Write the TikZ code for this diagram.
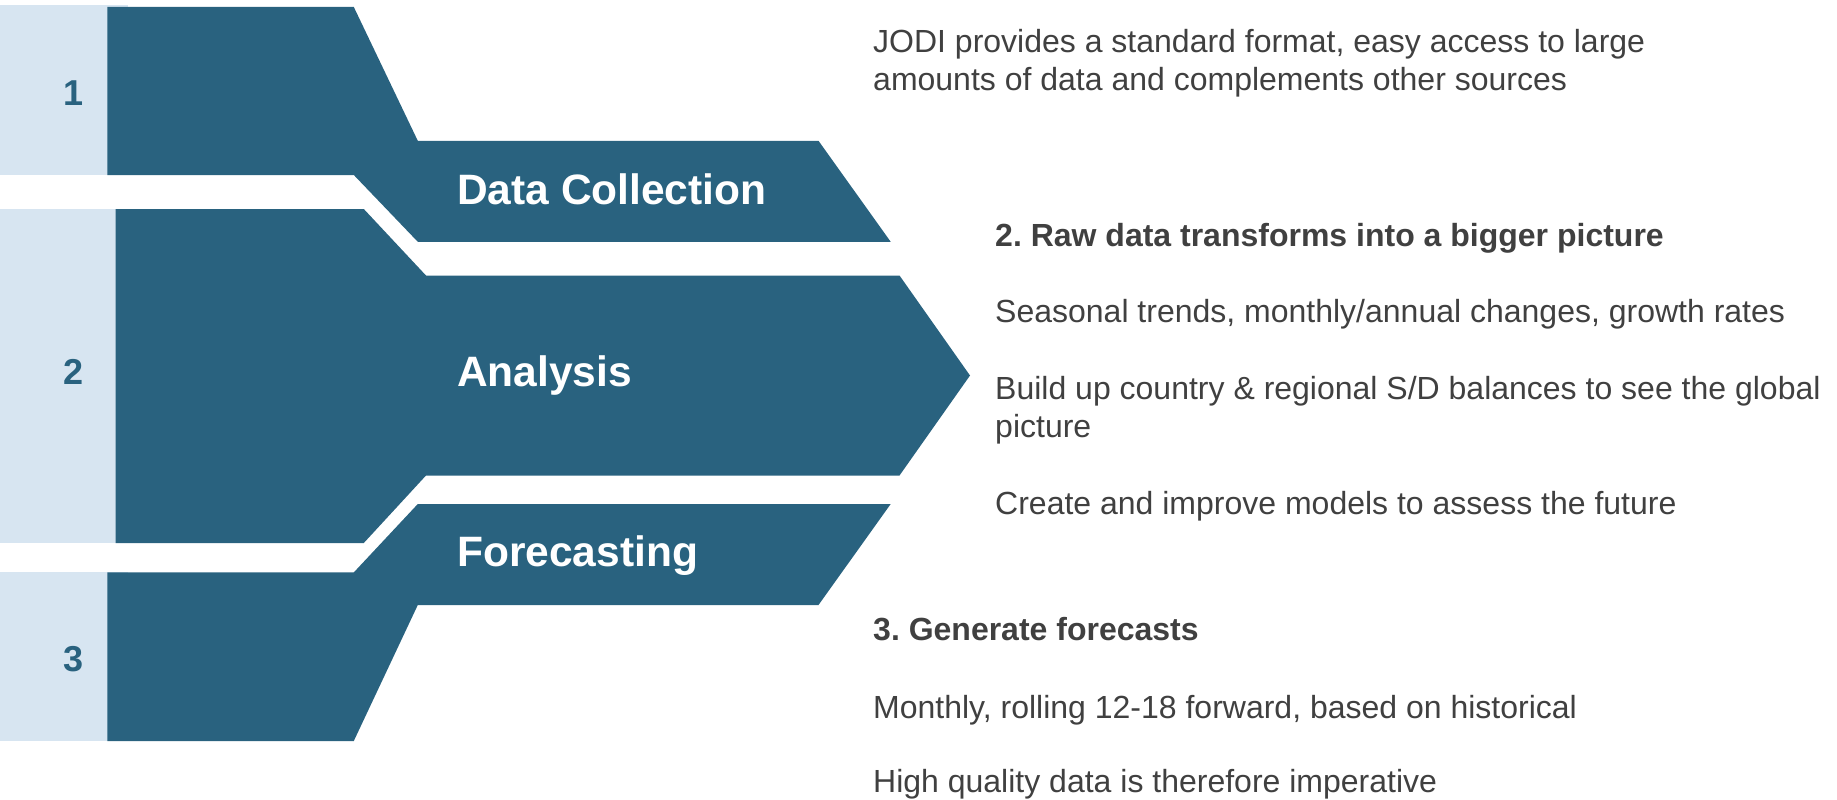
\documentclass[tikz,border=0pt]{standalone}
\usepackage{fontspec}
\setmainfont{Liberation Sans}
\frenchspacing
\definecolor{dark}{HTML}{29627F}
\definecolor{light}{HTML}{D7E5F1}
\definecolor{txt}{HTML}{404040}
\tikzset{
  stripe/.style={fill=light, draw=none},
  band/.style={fill=dark, draw=none},
  stage/.style={anchor=base west, inner sep=0pt, text=white, font=\fontsize{42.5}{50}\selectfont\bfseries},
  num/.style={anchor=base, inner sep=0pt, text=dark, font=\fontsize{36}{42}\selectfont\bfseries},
  body/.style={anchor=base west, inner sep=0pt, text=txt, font=\fontsize{32}{38}\selectfont},
  bodyb/.style={body, font=\fontsize{32}{38}\selectfont\bfseries}
}
\begin{document}
\begin{tikzpicture}[x=1pt,y=-1pt]
\useasboundingbox (0,0) rectangle (1837,800);
% light stripes
\fill[stripe] (0,5) rectangle (128,175);
\fill[stripe] (0,209) rectangle (128,543);
\fill[stripe] (0,572.4) rectangle (128,741);
% dark bands
\fill[band] (107.4,7) -- (353.8,7) -- (417.8,140.8) -- (818.5,140.8) -- (890.7,241.8)
  -- (417.8,241.8) -- (353.8,175) -- (107.4,175) -- cycle;
\fill[band] (115.6,209) -- (363.8,209) -- (426,275.5) -- (899.5,275.5) -- (970,375.5)
  -- (899.5,475.5) -- (426,475.5) -- (363.8,543) -- (115.6,543) -- cycle;
\fill[band] (107.4,572.4) -- (353.8,572.4) -- (417.8,504) -- (890.7,504) -- (818.5,605)
  -- (417.8,605) -- (353.8,741) -- (107.4,741) -- cycle;
% stage labels
\node[stage] (dc) at (457,204.2) {Data Collection};
\node[stage] (an) at (457,386.2) {Analysis};
\node[stage] (fc) at (457,566.2) {Forecasting};
% numbers
\node[num] (n1) at (74,105) {1};
\node[num] (n2) at (74,384) {2};
\node[num] (n3) at (74,671) {3};
% right texts
\node[body] (t1a) at (873,52.5) {JODI provides a standard format, easy access to large};
\node[body] (t1b) at (873,90.5) {amounts of data and complements other sources};
\node[bodyb] (t2) at (995,246.2) {2. Raw data transforms into a bigger picture};
\node[body] (t2a) at (995,322.5) {Seasonal trends, monthly/annual changes, growth rates};
\node[body] (t2b) at (995,399.5) {Build up country \& regional S/D balances to see the global};
\node[body] (t2c) at (995,437.5) {picture};
\node[body] (t2d) at (995,514) {Create and improve models to assess the future};
\node[bodyb] (t3) at (873,640.1) {3. Generate forecasts};
\node[body] (t3a) at (873,718.1) {Monthly, rolling 12-18 forward, based on historical};
\node[body] (t3b) at (873,792.1) {High quality data is therefore imperative};
\end{tikzpicture}
\end{document}
